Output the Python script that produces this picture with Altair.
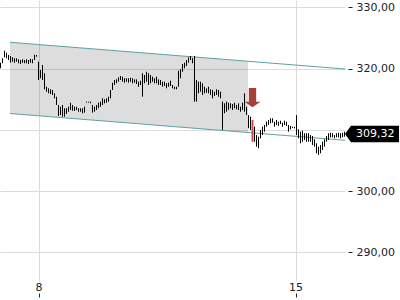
import altair as alt
import pandas as pd

# ---- data ----
highs = [
    320.95, 321.67, 322.91, 322.59, 322.21, 322.05, 321.83, 321.67, 321.67, 321.51,
    321.39, 321.51, 321.39, 321.51, 321.39, 321.56, 321.51, 322.26, 322.21, 321.12,
    319.76, 320.58, 319.22, 317.03, 316.77, 316.61, 316.50, 315.96, 315.40, 314.05,
    313.77, 314.05, 313.51, 313.51, 313.77, 314.42, 314.05, 313.77, 313.77, 313.51,
    313.51, 313.51, 313.77, 314.59, 314.59, 314.59, 314.05, 313.77, 314.05, 314.42,
    314.59, 315.14, 314.98, 315.14, 315.40, 316.50, 317.69, 318.13, 318.24, 318.57,
    318.78, 318.67, 318.41, 318.41, 318.41, 318.50, 318.41, 318.24, 318.24, 317.85,
    318.01, 319.22, 318.94, 319.48, 319.22, 318.94, 318.67, 318.41, 318.67, 318.24,
    318.13, 317.85, 317.85, 317.59, 317.69, 318.01, 317.31, 317.03, 317.03, 319.65,
    319.88, 320.74, 320.95, 321.39, 321.83, 322.05, 321.67, 322.05, 318.13, 317.85,
    317.85, 317.59, 317.03, 316.77, 317.03, 316.61, 316.50, 316.22, 316.61, 316.50,
    316.22, 314.59, 314.32, 314.59, 314.42, 314.32, 314.21, 314.42, 314.05, 314.32,
    313.77, 314.42, 315.96, 313.77, 312.41, 312.14, 311.60, 310.50, 309.15, 308.87,
    309.97, 310.50, 310.78, 311.32, 311.60, 311.88, 311.88, 311.32, 311.60, 311.32,
    311.48, 311.16, 311.48, 311.32, 310.78, 310.62, 310.50, 310.50, 312.41, 310.08,
    309.69, 309.85, 309.43, 309.43, 309.43, 309.15, 308.99, 308.45, 307.79, 307.24,
    307.52, 308.05, 308.45, 308.99, 309.43, 309.52, 309.43, 309.15, 309.43, 309.52,
    309.43, 309.52, 309.69,
]
lows = [
    320.04, 320.86, 321.83, 321.67, 321.39, 320.95, 321.12, 320.95, 321.12, 320.86,
    320.74, 320.95, 320.86, 320.86, 320.74, 320.95, 320.86, 321.39, 321.93, 318.13,
    318.41, 318.13, 316.61, 316.22, 315.96, 315.84, 315.68, 315.14, 314.05, 312.25,
    312.41, 312.14, 312.14, 312.58, 312.95, 313.23, 313.12, 313.07, 313.23, 312.95,
    312.95, 312.69, 312.79, 314.42, 314.42, 314.32, 312.79, 312.95, 313.23, 313.51,
    313.77, 314.05, 314.32, 314.42, 314.59, 315.14, 316.50, 317.31, 317.59, 317.85,
    318.13, 317.85, 317.69, 317.85, 317.69, 317.85, 317.59, 317.69, 317.48, 317.03,
    317.31, 315.40, 317.59, 317.85, 317.31, 317.59, 317.85, 317.59, 317.59, 317.31,
    317.31, 317.03, 317.15, 316.77, 317.03, 317.15, 316.77, 316.61, 316.61, 317.03,
    318.41, 319.48, 320.04, 320.41, 320.95, 321.39, 320.86, 314.59, 314.59, 315.96,
    316.22, 315.68, 315.96, 316.06, 315.96, 315.68, 315.14, 315.52, 315.68, 315.40,
    315.14, 309.97, 312.69, 312.95, 313.23, 313.51, 313.23, 313.51, 313.34, 313.23,
    312.95, 313.23, 312.95, 312.41, 310.24, 309.97, 308.05, 308.05, 307.24, 306.98,
    308.61, 309.15, 309.69, 310.50, 310.78, 311.06, 311.16, 310.50, 310.78, 310.62,
    310.94, 310.50, 310.78, 310.62, 309.69, 310.08, 310.29, 310.24, 309.15, 308.61,
    307.79, 308.05, 308.33, 308.05, 308.05, 308.05, 307.52, 307.24, 306.16, 305.88,
    306.16, 306.70, 307.24, 308.05, 308.33, 308.77, 308.77, 308.61, 308.77, 308.77,
    308.61, 308.77, 308.87,
]
signal_bar = 126
arrow_price = 315.25
last_price = 309.32

day_ticks = [19, 147.5]
day_labels = ["8", "15"]
y_ticks = [290, 300, 310, 320, 330]

channel_x = [4.75, 172.25]
channel_upper = [324.29, 319.93]
channel_lower = [312.66, 308.30]
zone_x = [4.75, 123.75]
zone_upper = [324.29, 321.19]
zone_lower = [312.66, 309.56]

x_domain = [-0.25, 172.25]
y_domain = [285.31, 331.19]

# ---- tables ----
bars = pd.DataFrame({"i": list(range(len(highs))), "high": highs, "low": lows})
bars["color"] = ["#c4504b" if i == signal_bar else "#000000" for i in bars["i"]]
bars["w"] = [2 if i == signal_bar else 1 for i in bars["i"]]

zone = pd.DataFrame({"x": zone_x, "upper": zone_upper, "lower": zone_lower})
channel = pd.DataFrame({
    "x": channel_x + channel_x,
    "p": channel_upper + channel_lower,
    "side": ["upper"] * 2 + ["lower"] * 2,
})
arrow = pd.DataFrame({"i": [signal_bar], "p": [arrow_price]})
last = pd.DataFrame({"p": [last_price], "t": [f"{last_price:.2f}".replace(".", ",")]})

FONT = "DejaVu Sans"
label_expr = " : ".join(
    [f"datum.value == {v} ? '{l}'" for v, l in zip(day_ticks[:-1], day_labels[:-1])]
    + [f"'{day_labels[-1]}'"]
)
# the price tag hides the y label that lies behind it
y_label_expr = (
    f"abs(datum.value - {last_price}) < 1.5 ? '' : "
    "replace(format(datum.value, '.2f'), '.', ',')"
)

xaxis = alt.Axis(
    values=day_ticks, labelExpr=label_expr, grid=True, gridColor="#dcdcdc",
    domain=False, ticks=True, tickSize=4, tickColor="#222222", offset=12,
    labelPadding=-6.5, labelBaseline="alphabetic", labelFlush=False,
    labelOverlap=False, labelFont=FONT, labelFontSize=11, labelColor="#222222",
    title=None,
)
yaxis = alt.Axis(
    orient="right", values=y_ticks, labelExpr=y_label_expr,
    grid=True, gridColor="#dcdcdc", domain=False, ticks=True, tickSize=4,
    tickColor="#222222", offset=3, labelPadding=4, labelFont=FONT,
    labelFontSize=11, labelColor="#222222", title=None,
)
xs = alt.Scale(domain=x_domain, nice=False, zero=False)
ys = alt.Scale(domain=y_domain, nice=False, zero=False)

zone_layer = alt.Chart(zone).mark_area(color="#000000", opacity=0.135).encode(
    x=alt.X("x:Q", scale=xs, axis=xaxis),
    y=alt.Y("upper:Q", scale=ys, axis=yaxis),
    y2="lower:Q",
)

channel_layer = alt.Chart(channel).mark_line(color="#5ba3a3", strokeWidth=1.1).encode(
    x=alt.X("x:Q", scale=xs, axis=xaxis),
    y=alt.Y("p:Q", scale=ys, axis=yaxis),
    detail="side:N",
)

bar_layer = alt.Chart(bars).mark_rule().encode(
    x=alt.X("i:Q", scale=xs, axis=xaxis),
    y=alt.Y("high:Q", scale=ys, axis=yaxis),
    y2="low:Q",
    color=alt.Color("color:N", scale=None),
    strokeWidth=alt.StrokeWidth("w:Q", scale=None),
)

arrow_path = "M-0.38,-1 L0.38,-1 L0.38,0.42 L0.83,0.42 L0,1 L-0.83,0.42 L-0.38,0.42 Z"
arrow_layer = alt.Chart(arrow).mark_point(
    shape=arrow_path, size=372, filled=True, color="#a5403b", opacity=1, strokeWidth=0
).encode(
    x=alt.X("i:Q", scale=xs, axis=xaxis),
    y=alt.Y("p:Q", scale=ys, axis=yaxis),
)

box_path = "M0,0 L0.6,-0.83 L5.4,-0.83 L5.4,0.83 L0.6,0.83 Z"
box_layer = alt.Chart(last).mark_point(
    shape=box_path, size=400, filled=True, color="#000000", opacity=1,
    strokeWidth=0, clip=False,
).encode(
    x=alt.value(345),
    y=alt.Y("p:Q", scale=ys, axis=yaxis),
)
text_layer = alt.Chart(last).mark_text(
    align="left", baseline="middle", color="#ffffff", font=FONT, fontSize=11, clip=False
).encode(
    x=alt.value(356),
    y=alt.Y("p:Q", scale=ys, axis=yaxis),
    text="t:N",
)

chart = (
    alt.layer(zone_layer, channel_layer, bar_layer, arrow_layer, box_layer, text_layer)
    .properties(width=345, height=281, padding=0, background="#ffffff")
    .configure_view(stroke=None)
)

chart.save("out.html", embed_options={"renderer": "svg", "actions": False})
